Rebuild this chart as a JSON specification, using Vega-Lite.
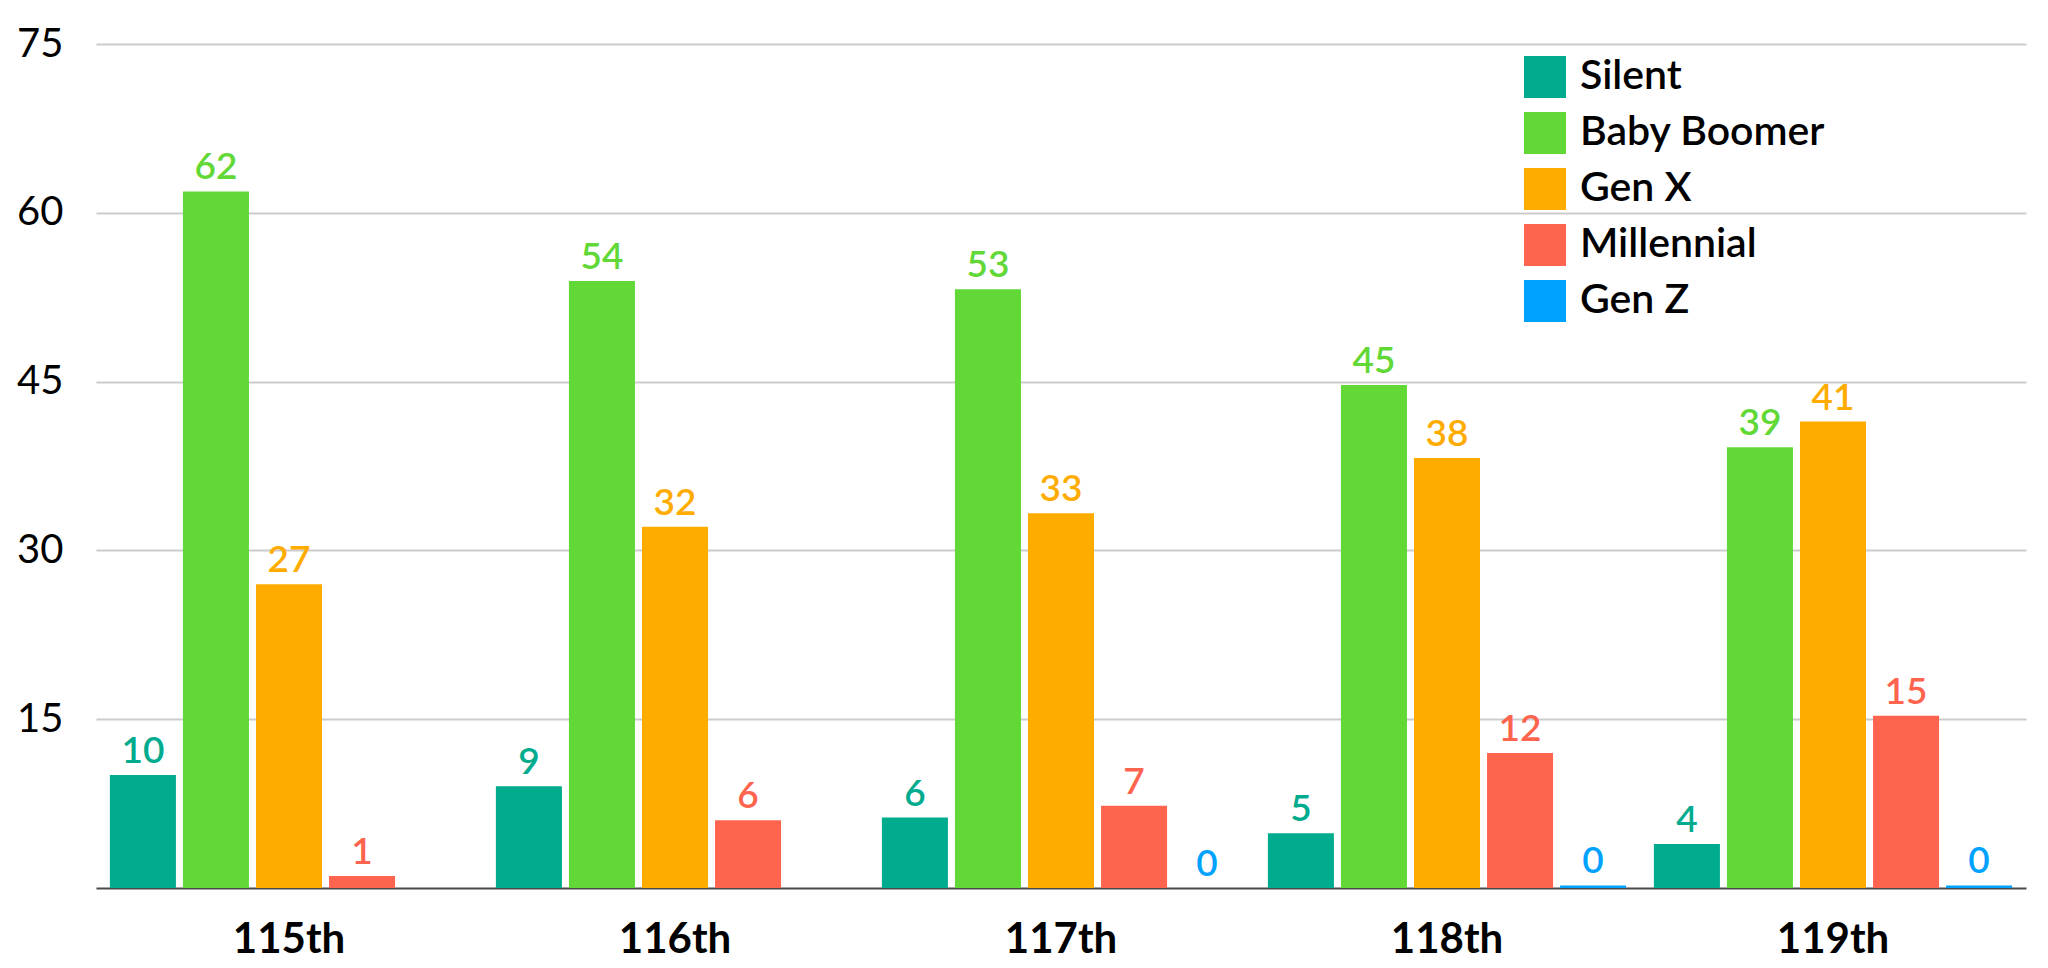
{
  "$schema": "https://vega.github.io/schema/vega-lite/v6.json",
  "width": 1930,
  "height": 844,
  "autosize": {"type": "none"},
  "padding": {"left": 96, "top": 44, "right": 22, "bottom": 80},
  "background": "white",
  "config": {
    "font": "Lato",
    "view": {"stroke": null}
  },
  "data": {
    "values": [
      {"congress": "115th", "generation": "Silent", "value": 10.05},
      {"congress": "115th", "generation": "Baby Boomer", "value": 61.9},
      {"congress": "115th", "generation": "Gen X", "value": 27.0},
      {"congress": "115th", "generation": "Millennial", "value": 1.07},
      {"congress": "116th", "generation": "Silent", "value": 9.04},
      {"congress": "116th", "generation": "Baby Boomer", "value": 53.94},
      {"congress": "116th", "generation": "Gen X", "value": 32.1},
      {"congress": "116th", "generation": "Millennial", "value": 6.03},
      {"congress": "117th", "generation": "Silent", "value": 6.26},
      {"congress": "117th", "generation": "Baby Boomer", "value": 53.2},
      {"congress": "117th", "generation": "Gen X", "value": 33.3},
      {"congress": "117th", "generation": "Millennial", "value": 7.3},
      {"congress": "117th", "generation": "Gen Z", "value": 0},
      {"congress": "118th", "generation": "Silent", "value": 4.87},
      {"congress": "118th", "generation": "Baby Boomer", "value": 44.7},
      {"congress": "118th", "generation": "Gen X", "value": 38.2},
      {"congress": "118th", "generation": "Millennial", "value": 12.0},
      {"congress": "118th", "generation": "Gen Z", "value": 0.23},
      {"congress": "119th", "generation": "Silent", "value": 3.9},
      {"congress": "119th", "generation": "Baby Boomer", "value": 39.16},
      {"congress": "119th", "generation": "Gen X", "value": 41.45},
      {"congress": "119th", "generation": "Millennial", "value": 15.3},
      {"congress": "119th", "generation": "Gen Z", "value": 0.23}
    ]
  },
  "encoding": {
    "x": {
      "field": "congress",
      "type": "nominal",
      "sort": ["115th", "116th", "117th", "118th", "119th"],
      "scale": {"paddingInner": 0, "paddingOuter": 0},
      "axis": {
        "title": null,
        "labelAngle": 0,
        "labelFontSize": 42,
        "labelFontWeight": "bold",
        "labelColor": "#000000",
        "labelPadding": 31,
        "ticks": false,
        "domainColor": "#4a4a4a",
        "domainWidth": 2,
        "grid": false
      }
    },
    "xOffset": {
      "field": "generation",
      "type": "nominal",
      "sort": ["Silent", "Baby Boomer", "Gen X", "Millennial", "Gen Z"],
      "scale": {
        "domain": ["Silent", "Baby Boomer", "Gen X", "Millennial", "Gen Z"],
        "paddingInner": 0.096,
        "paddingOuter": 0.19
      }
    },
    "y": {
      "field": "value",
      "type": "quantitative",
      "scale": {"domain": [0, 75], "nice": false},
      "axis": {
        "title": null,
        "values": [15, 30, 45, 60, 75],
        "labelFontSize": 40,
        "labelColor": "#000000",
        "labelPadding": 33,
        "ticks": false,
        "domain": false,
        "gridColor": "#cccccc",
        "gridWidth": 2
      }
    },
    "color": {
      "field": "generation",
      "type": "nominal",
      "scale": {
        "domain": ["Silent", "Baby Boomer", "Gen X", "Millennial", "Gen Z"],
        "range": ["#01AB8E", "#61D836", "#FFAC00", "#FF644E", "#00A2FF"]
      },
      "legend": {
        "title": null,
        "orient": "none",
        "legendX": 1428,
        "legendY": 12,
        "direction": "vertical",
        "symbolType": "square",
        "symbolSize": 1764,
        "symbolStrokeWidth": 0,
        "symbolOpacity": 1,
        "labelFontSize": 41,
        "labelFontWeight": 600,
        "labelColor": "#000000",
        "labelOffset": 14,
        "rowPadding": 14,
        "labelLimit": 400
      }
    }
  },
  "layer": [
    {
      "mark": {"type": "bar", "strokeWidth": 0}
    },
    {
      "mark": {
        "type": "text",
        "baseline": "bottom",
        "dy": -4,
        "fontSize": 37,
        "fontWeight": 600
      },
      "encoding": {
        "text": {"field": "value", "type": "quantitative", "format": ".0f"}
      }
    }
  ]
}
